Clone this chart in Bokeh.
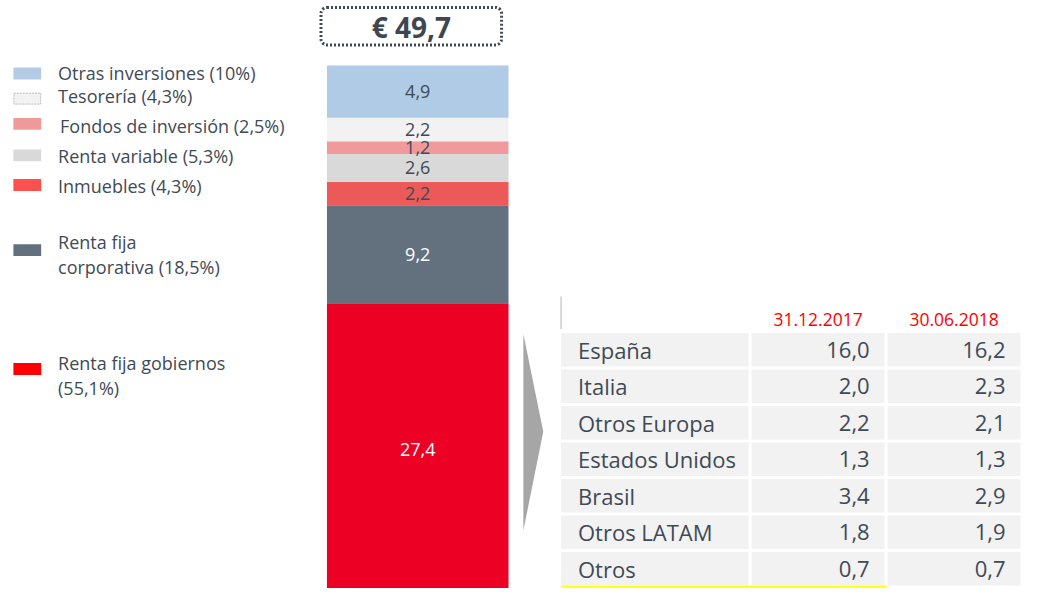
import numpy as np
from bokeh.plotting import figure
from bokeh.models import Range1d, ColumnDataSource, BoxAnnotation
from bokeh.core.properties import value
from bokeh.embed import file_html
from bokeh.resources import INLINE

# ---------------- data ----------------
total_label = "€ 49,7"
categories = ["Renta fija gobiernos", "Renta fija corporativa", "Inmuebles",
              "Renta variable", "Fondos de inversión", "Tesorería", "Otras inversiones"]
amounts = [27.4, 9.2, 2.2, 2.6, 1.2, 2.2, 4.9]
bar_colors = ["#EC0024", "#63717F", "#EB5959", "#D9D9D9", "#F09A9B", "#F2F2F2", "#AFCBE5"]
label_colors = ["white", "white", "#3F4A55", "#3F4A55", "#3F4A55", "#3F4A55", "#3F4A55"]

legend_labels = ["Otras inversiones (10%)", "Tesorería (4,3%)", "Fondos de inversión (2,5%)",
                 "Renta variable (5,3%)", "Inmuebles (4,3%)",
                 "Renta fija\ncorporativa (18,5%)", "Renta fija gobiernos\n(55,1%)"]
legend_colors = ["#B4CBE6", "#F2F2F2", "#EE9A9A", "#D9D9D9", "#FF5050", "#63717F", "#FF0000"]

countries = ["España", "Italia", "Otros Europa", "Estados Unidos", "Brasil", "Otros LATAM", "Otros"]
vals_2017 = [16.0, 2.0, 2.2, 1.3, 3.4, 1.8, 0.7]
vals_2018 = [16.2, 2.3, 2.1, 1.3, 2.9, 1.9, 0.7]
col_headers = ["31.12.2017", "30.06.2018"]

def fmt(v):
    return f"{v:.1f}".replace(".", ",")

FONT = value("Open Sans")
DARK = "#3F4A55"

p = figure(width=1021, height=588, x_range=Range1d(0, 1029), y_range=Range1d(596, 0),
           output_backend="svg", toolbar_location=None, min_border=0)
p.axis.visible = False
p.grid.visible = False
p.outline_line_color = None
p.background_fill_color = "white"
p.border_fill_color = "white"

# bar value scale: 0 -> layout y 603, 49.7 -> layout y 66
px_per_unit = (603 - 66) / sum(amounts)
p.extra_y_ranges = {"bar": Range1d((603 - 596) / px_per_unit, (603 - 0) / px_per_unit)}

tops = np.cumsum(amounts)
bottoms = tops - np.array(amounts)
bar_src = ColumnDataSource(dict(bottom=bottoms, top=tops, color=bar_colors,
                                mid=(bottoms + tops) / 2, lab=[fmt(a) for a in amounts],
                                lc=label_colors))
p.quad(left=329, right=512, bottom="bottom", top="top", fill_color="color",
       line_color=None, source=bar_src, y_range_name="bar")
p.text(x=420.5, y="mid", text="lab", text_color="lc", text_font=FONT,
       text_font_size="18px", text_align="center", text_baseline="middle",
       source=bar_src, y_range_name="bar")

# total box
p.add_layout(BoxAnnotation(left=323, right=505, top=7, bottom=45, fill_alpha=0,
                           line_color="#3F4A55", line_alpha=1.0, line_width=3,
                           line_dash="2 2", border_radius=6))
p.text(x=[414], y=[27], text=[total_label], text_font=FONT, text_font_style="bold",
       text_font_size="28px", text_color="#3D4651", text_align="center",
       text_baseline="middle")

# legend
sw_y = [74, 99.5, 125, 157, 187, 253, 373.5]
txt_y = [73, 97, 127, 158, 188, 245, 367]
p.rect(x=27, y=sw_y, width=28, height=12, fill_color=legend_colors, line_color=None)
p.rect(x=27, y=sw_y[1], width=27, height=11, fill_alpha=0, line_color="#BFBFBF",
       line_dash="2 1", line_width=1)
lx, ly, lt = [], [], []
for i, lab in enumerate(legend_labels):
    for j, line in enumerate(lab.split("\n")):
        lx.append(60 if i == 2 else 58)
        ly.append(txt_y[i] + 25.5 * j)
        lt.append(line)
p.text(x=lx, y=ly, text=lt, text_font=FONT, text_font_size="18px", text_color=DARK,
       text_align="left", text_baseline="middle")

# arrow triangle
p.patch(x=[527, 547, 527], y=[338, 437, 537], fill_color="#A6A6A6", line_color=None)

# table
p.line(x=[565, 565], y=[300, 333], line_color="#D9D9D9", line_width=2)
p.text(x=[824, 961], y=[323, 323], text=col_headers, text_font=FONT,
       text_font_size="17.5px", text_color="#FF0000", text_align="center",
       text_baseline="middle")
n = len(countries)
row_y = [354 + 37 * i for i in range(n)]
for (x0, x1) in [(565, 754), (757, 891), (894, 1028)]:
    p.rect(x=(x0 + x1) / 2, y=row_y, width=x1 - x0, height=34,
           fill_color="#F2F2F2", line_color=None)
p.text(x=582, y=row_y, text=countries, text_font=FONT, text_font_size="22px",
       text_color=DARK, text_align="left", text_baseline="middle")
p.text(x=876, y=row_y, text=[fmt(v) for v in vals_2017], text_font=FONT,
       text_font_size="22px", text_color=DARK, text_align="right", text_baseline="middle")
p.text(x=1013, y=row_y, text=[fmt(v) for v in vals_2018], text_font=FONT,
       text_font_size="22px", text_color=DARK, text_align="right", text_baseline="middle")
p.line(x=[565, 893], y=[594, 594], line_color="#FFFF00", line_width=1.5)

open("out.html", "w").write(file_html(p, INLINE))
